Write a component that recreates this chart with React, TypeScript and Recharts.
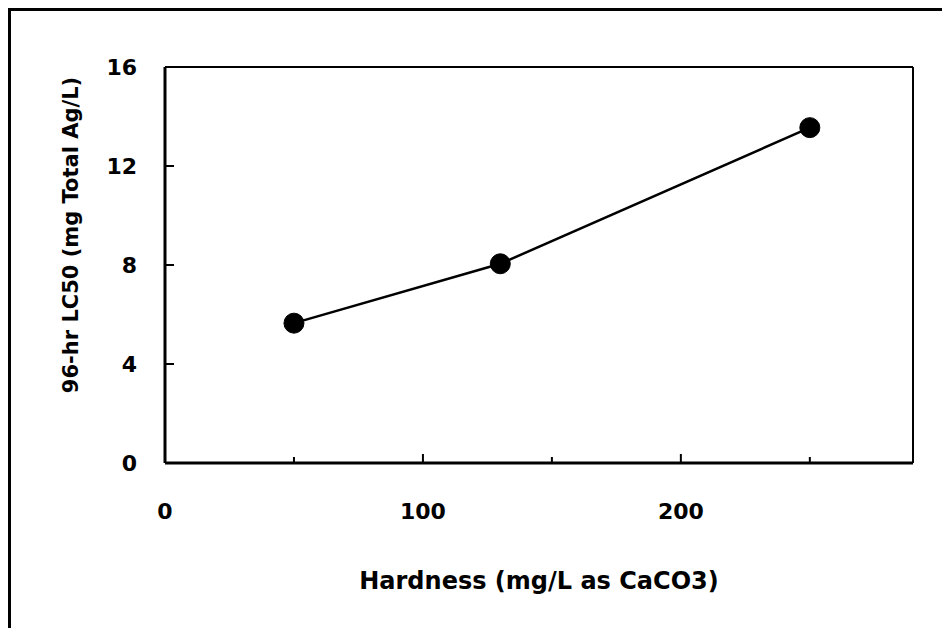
import React from "react";
import { LineChart, Line, XAxis, YAxis, ReferenceLine } from "recharts";

const hardness = [50, 130, 250];
const lc50 = [5.65, 8.05, 13.55];
const xTicks = [0, 50, 100, 150, 200, 250];
const yTicks = [0, 4, 8, 12, 16];
const xLabelValues = [0, 100, 200];
const xMax = 290;
const yMax = 16;

const data = hardness.map((h, i) => ({ hardness: h, lc50: lc50[i] }));

const FONT = "'DejaVu Sans', sans-serif";

// layout (svg coords)
const W = 929;
const H = 617;
const M = { top: 56, right: 27, bottom: 35, left: 94 };
const Y_AXIS_W = 60;
const X_AXIS_H = 130;
const PLOT_LEFT = M.left + Y_AXIS_W;
const PLOT_BOTTOM = H - M.bottom - X_AXIS_H;

// ticks point into the plot, major ones longer
const XTick = (props: any) => {
  const { x, payload } = props;
  const v = payload.value;
  const major = v % 100 === 0;
  return (
    <g>
      <line x1={x} x2={x} y1={PLOT_BOTTOM} y2={PLOT_BOTTOM - (major ? 9 : 6)} stroke="#000" strokeWidth={2} />
      {xLabelValues.includes(v) && (
        <text x={x} y={PLOT_BOTTOM + 48} textAnchor="middle" dominantBaseline="central" fontFamily={FONT} fontWeight="bold" fontSize={22} fill="#000">
          {v}
        </text>
      )}
    </g>
  );
};

const YTick = (props: any) => {
  const { y, payload } = props;
  return (
    <g>
      <line x1={PLOT_LEFT} x2={PLOT_LEFT + 9} y1={y} y2={y} stroke="#000" strokeWidth={2} />
      <text x={PLOT_LEFT - 28} y={y} textAnchor="end" dominantBaseline="central" fontFamily={FONT} fontWeight="bold" fontSize={22} fill="#000">
        {payload.value}
      </text>
    </g>
  );
};

const XTitle = (props: any) => {
  const { viewBox } = props;
  return (
    <text x={viewBox.x + viewBox.width / 2} y={PLOT_BOTTOM + 118} textAnchor="middle" dominantBaseline="central" fontFamily={FONT} fontWeight="bold" fontSize={24} fill="#000">
      Hardness (mg/L as CaCO3)
    </text>
  );
};

const YTitle = (props: any) => {
  const { viewBox } = props;
  const cx = PLOT_LEFT - 94;
  const cy = viewBox.y + viewBox.height / 2 - 30;
  return (
    <text x={cx} y={cy} transform={`rotate(-90, ${cx}, ${cy})`} textAnchor="middle" dominantBaseline="central" fontFamily={FONT} fontWeight="bold" fontSize={21} fill="#000">
      96-hr LC50 (mg Total Ag/L)
    </text>
  );
};

export default function App() {
  return (
    <div style={{ borderLeft: "3px solid #000", borderTop: "3px solid #000", width: 937, height: H }}>
      <LineChart width={W} height={H} data={data} margin={M}>
        <ReferenceLine y={yMax} stroke="#000" strokeWidth={2} />
        <ReferenceLine x={xMax} stroke="#000" strokeWidth={2} />
        <XAxis
          dataKey="hardness"
          type="number"
          domain={[0, xMax]}
          ticks={xTicks}
          allowDataOverflow
          tick={<XTick />}
          tickLine={false}
          height={X_AXIS_H}
          axisLine={{ stroke: "#000", strokeWidth: 3 }}
          label={<XTitle />}
        />
        <YAxis
          type="number"
          domain={[0, yMax]}
          ticks={yTicks}
          tick={<YTick />}
          tickLine={false}
          width={Y_AXIS_W}
          axisLine={{ stroke: "#000", strokeWidth: 3 }}
          label={<YTitle />}
        />
        <Line
          dataKey="lc50"
          stroke="#000"
          strokeWidth={2.5}
          dot={{ r: 10, fill: "#000", stroke: "#000", strokeWidth: 1 }}
          isAnimationActive={false}
        />
      </LineChart>
    </div>
  );
}
